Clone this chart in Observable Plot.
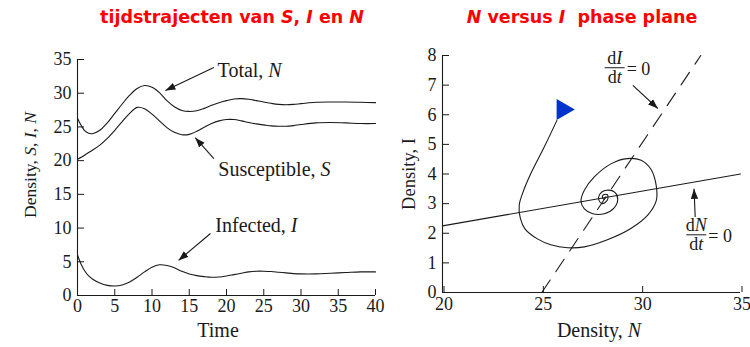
<!DOCTYPE html>
<html><head><meta charset="utf-8">
<script src="https://cdn.jsdelivr.net/npm/d3@7"></script>
<script src="https://cdn.jsdelivr.net/npm/@observablehq/plot@0.6"></script>
<style>
body{margin:0;background:#fff;}
#wrap{position:relative;width:750px;height:347px;overflow:hidden;background:#fff;}
.panel{position:absolute;top:0;}
.title{position:absolute;top:7px;transform:translateX(-50%);font-family:"DejaVu Sans",Verdana,sans-serif;font-weight:bold;color:#ff0000;font-size:17.5px;line-height:20px;white-space:nowrap;}
.title i{font-style:italic;}
</style></head><body>
<div id="wrap">
 <div id="left" class="panel" style="left:0"></div>
 <div id="right" class="panel" style="left:390px"></div>
 <div class="title" style="left:232px">tijdstrajecten van <i>S</i>, <i>I</i> en <i>N</i></div>
 <div class="title" style="left:582px"><i>N</i> versus <i>I</i>&nbsp; phase plane</div>
</div>
<script>
// ---------- data: time series ----------
const time = [0,0.5,1,1.5,2,3,4,5,6,7,8,9,10,11,12,13,14,15,16,17,18,19,20,21,22,23,24,25,26,27,28,29,30,32,34,36,38,40];
const totalN = [26.3,25.2,24.4,24.05,24.0,24.5,25.6,27.0,28.4,29.7,30.7,31.15,30.9,30.1,28.9,28.0,27.45,27.3,27.4,27.75,28.2,28.6,28.9,29.15,29.2,29.1,28.9,28.7,28.5,28.35,28.3,28.35,28.45,28.65,28.7,28.7,28.65,28.6];
const susceptibleS = [20.2,20.5,20.85,21.2,21.55,22.3,23.3,24.5,25.8,27.0,27.9,27.7,26.9,25.9,24.9,24.2,23.85,23.9,24.35,24.95,25.5,25.9,26.1,26.1,25.9,25.65,25.45,25.3,25.15,25.1,25.1,25.2,25.35,25.6,25.65,25.6,25.5,25.5];
const infectedI = [6.0,4.6,3.6,2.9,2.45,1.85,1.5,1.4,1.55,2.0,2.7,3.5,4.2,4.55,4.45,4.1,3.6,3.2,2.95,2.8,2.7,2.75,2.9,3.1,3.3,3.5,3.6,3.6,3.55,3.45,3.35,3.25,3.2,3.2,3.3,3.4,3.5,3.5];
const leftXTicks = [0,5,10,15,20,25,30,35,40];
const leftYTicks = [0,5,10,15,20,25,30,35];
const leftLabels = ["Total, *N*", "Susceptible, *S*", "Infected, *I*"];
const leftLabelT = [18.8, 18.9, 18.5];
const leftLabelV = [33.4, 18.7, 10.4];
const leftArrowT1 = [18.3, 18.3, 17.85];
const leftArrowV1 = [33.8, 20.3, 9.2];
const leftArrowT2 = [11.8, 15.8, 13.56];
const leftArrowV2 = [30.4, 23.4, 5.2];

// ---------- data: phase plane ----------
const phaseN = [25.76,25.12,24.44,24.02,23.86,23.92,24.15,24.78,25.45,26.3,27.14,28.3,29.5,30.34,30.76,30.76,30.5,30.0,29.3,28.5,27.64,27.14,26.97,27.14,27.56,28.15,28.62,28.82,28.68,28.25,27.9,27.88,28.05,28.3,28.3,28.1,28.05,28.15,28.2];
const phaseI = [5.81,4.91,4.01,3.33,2.95,2.5,2.15,1.81,1.61,1.51,1.54,1.78,2.17,2.62,3.1,3.6,4.15,4.46,4.52,4.35,3.9,3.45,3.08,2.82,2.66,2.66,2.84,3.15,3.38,3.45,3.3,3.1,3.0,3.12,3.3,3.3,3.2,3.15,3.22];
const nullN_N = [20, 35];
const nullN_I = [2.25, 4.0];
const nullI_N = [25, 33];
const nullI_I = [0, 8];
const startN = [26.05];
const startI = [6.18];
const rightXTicks = [20,25,30,35];
const rightYTicks = [0,1,2,3,4,5,6,7,8];
const rightArrowN1 = [29.58, 32.72];
const rightArrowI1 = [6.99, 2.55];
const rightArrowN2 = [30.84, 32.66];
const rightArrowI2 = [6.21, 3.5];
const fracNum = ["I", "N"];        // d?/dt = 0
const fracN = [28.69, 32.8];
const fracI = [7.57, 1.93];

// ---------- helpers ----------
const FONT = "Liberation Serif, Times New Roman, serif";
const INK = "#1a1a1a";
const series = (name, ys) => time.map((t, i) => ({t, v: ys[i], name}));
const tsData = [...series("N", totalN), ...series("S", susceptibleS), ...series("I", infectedI)];
const leftAnn = leftLabels.map((s, i) => ({s, t: leftLabelT[i], v: leftLabelV[i]}));
const leftArr = leftArrowT1.map((t, i) => ({t1: t, v1: leftArrowV1[i], t2: leftArrowT2[i], v2: leftArrowV2[i]}));
const phase = phaseN.map((n, i) => ({n, i: phaseI[i]}));
const nullN = nullN_N.map((n, i) => ({n, i: nullN_I[i]}));
const nullI = nullI_N.map((n, i) => ({n, i: nullI_I[i]}));
const start = startN.map((n, i) => ({n, i: startI[i]}));
const rightArr = rightArrowN1.map((n, k) => ({n1: n, i1: rightArrowI1[k], n2: rightArrowN2[k], i2: rightArrowI2[k]}));

function solidHead(color) {
  const m = document.createElementNS("http://www.w3.org/2000/svg", "marker");
  m.setAttribute("viewBox", "-10 -4 10 8");
  m.setAttribute("markerWidth", "10");
  m.setAttribute("markerHeight", "8");
  m.setAttribute("markerUnits", "userSpaceOnUse");
  m.setAttribute("orient", "auto");
  m.setAttribute("refX", "0");
  m.setAttribute("refY", "0");
  const p = document.createElementNS("http://www.w3.org/2000/svg", "path");
  p.setAttribute("d", "M-10,-3.6L0,0L-10,3.6Z");
  p.setAttribute("fill", color);
  p.setAttribute("stroke", "none");
  m.appendChild(p);
  return m;
}

function fillParts(sel, s) {
  s.split(/(\*[^*]+\*)/).forEach(part => {
    if (!part) return;
    if (part.startsWith("*")) sel.append("tspan").attr("font-style", "italic").text(part.slice(1, -1));
    else sel.append("tspan").text(part);
  });
}
function addText(svg, {x, y, rotate = 0, anchor = "middle", size = 20, s}) {
  const t = d3.select(svg).append("text")
    .attr("transform", `translate(${x},${y}) rotate(${rotate})`)
    .attr("text-anchor", anchor).attr("font-family", FONT)
    .attr("font-size", size).attr("fill", INK).style("white-space", "pre");
  fillParts(t, s);
}
function italicize(svg, cls) {
  d3.select(svg).selectAll(`g.${cls} text`).each(function () {
    const s = this.textContent;
    const el = d3.select(this).style("white-space", "pre");
    el.text(null);
    fillParts(el, s);
  });
}

const baseStyle = {background: "transparent", color: INK, fontFamily: FONT, fontSize: "18px", overflow: "visible"};

// ---------- left panel ----------
const left = Plot.plot({
  width: 390, height: 347,
  marginLeft: 77, marginRight: 15, marginTop: 59, marginBottom: 52,
  style: baseStyle,
  x: {domain: [0, 40]},
  y: {domain: [0, 35]},
  marks: [
    Plot.axisX({ticks: leftXTicks, tickSize: -6, tickPadding: 10, label: null, fontSize: 18, tickFormat: d => d}),
    Plot.axisY({ticks: leftYTicks, tickSize: -7, tickPadding: 13, label: null, fontSize: 18, tickFormat: d => d}),
    Plot.ruleY([0], {stroke: INK, strokeWidth: 1.1}),
    Plot.ruleX([0], {stroke: INK, strokeWidth: 1.1}),
    Plot.line(tsData, {x: "t", y: "v", z: "name", stroke: INK, strokeWidth: 1.1, curve: "catmull-rom"}),
    Plot.link(leftArr, {x1: "t1", y1: "v1", x2: "t2", y2: "v2", stroke: INK, strokeWidth: 1.1, markerEnd: solidHead}),
    Plot.text(leftAnn, {x: "t", y: "v", text: "s", textAnchor: "start", lineAnchor: "middle", fontSize: 20, fill: INK, className: "annl"})
  ]
});
document.getElementById("left").appendChild(left);
italicize(left, "annl");
addText(left, {x: 218, y: 337, s: "Time", size: 20});
addText(left, {x: 36, y: 165, rotate: -90, s: "Density, *S*, *I*, *N*", size: 17.5});

// ---------- right panel ----------
const right = Plot.plot({
  width: 360, height: 347,
  marginLeft: 52, marginRight: 10, marginTop: 55, marginBottom: 55,
  style: baseStyle,
  x: {domain: [20, 35]},
  y: {domain: [0, 8]},
  marks: [
    Plot.axisX({ticks: rightXTicks, tickSize: -6, tickPadding: 11, dx: 1.5, label: null, fontSize: 18, tickFormat: d => d}),
    Plot.axisY({ticks: rightYTicks, tickSize: -7, tickPadding: 13, label: null, fontSize: 18, tickFormat: d => d}),
    Plot.ruleY([0], {stroke: INK, strokeWidth: 1.1}),
    Plot.ruleX([20], {stroke: INK, strokeWidth: 1.1}),
    Plot.line(nullN, {x: "n", y: "i", stroke: INK, strokeWidth: 1.1}),
    Plot.line(nullI, {x: "n", y: "i", stroke: INK, strokeWidth: 1.1, strokeDasharray: "15,10"}),
    Plot.line(phase, {x: "n", y: "i", stroke: INK, strokeWidth: 1.1, curve: "catmull-rom"}),
    Plot.dot(start, {x: "n", y: "i", symbol: "triangle", rotate: 90, r: 7.8, fill: "#0033cc", stroke: "none"}),
    Plot.link(rightArr, {x1: "n1", y1: "i1", x2: "n2", y2: "i2", stroke: INK, strokeWidth: 1.1, markerEnd: solidHead})
  ]
});
document.getElementById("right").appendChild(right);
addText(right, {x: 209, y: 337, s: "Density, *N*", size: 20});
addText(right, {x: 25, y: 174, rotate: -90, s: "Density, I", size: 18.5});

// fractions dX/dt = 0
const sx = right.scale("x"), sy = right.scale("y");
fracNum.forEach((v, k) => {
  const cx = sx.apply(fracN[k]), cy = sy.apply(fracI[k]);
  const g = d3.select(right).append("g").attr("font-family", FONT).attr("font-size", 18).attr("fill", INK);
  fillParts(g.append("text").attr("x", cx).attr("y", cy - 3.5).attr("text-anchor", "middle"), `d*${v}*`);
  fillParts(g.append("text").attr("x", cx).attr("y", cy + 15.5).attr("text-anchor", "middle"), "d*t*");
  g.append("line").attr("x1", cx - 10).attr("x2", cx + 10).attr("y1", cy).attr("y2", cy).attr("stroke", INK).attr("stroke-width", 1);
  g.append("text").attr("x", cx + 12).attr("y", cy + 7).attr("text-anchor", "start").text("= 0");
});
</script>
</body></html>
